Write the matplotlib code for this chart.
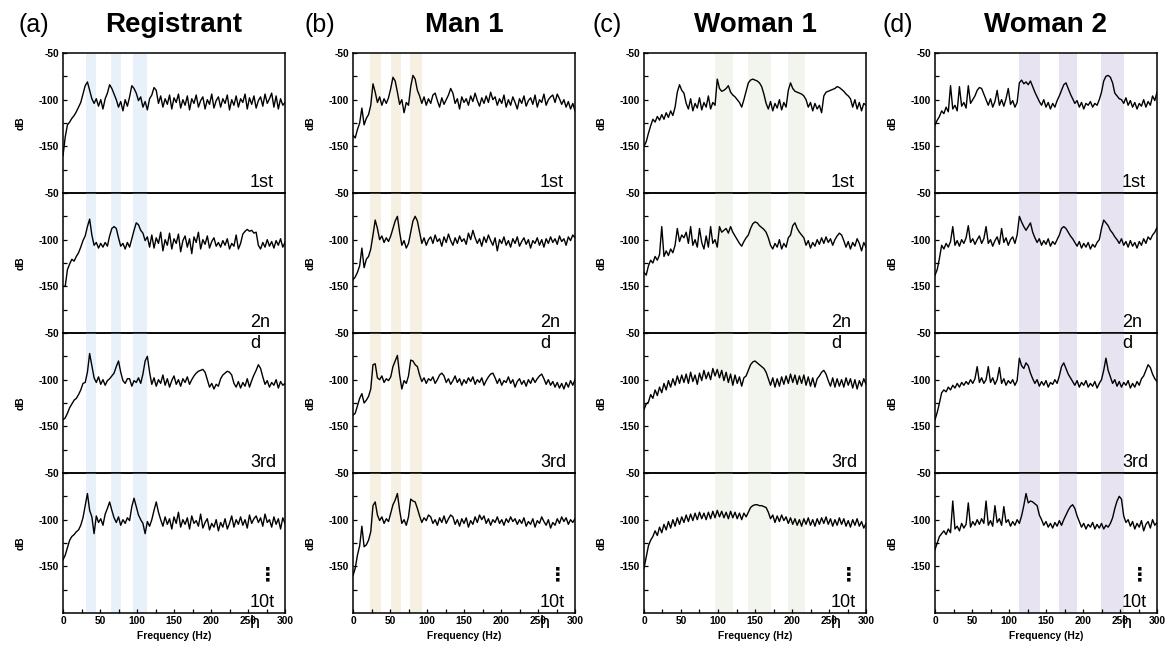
import numpy as np
import matplotlib
matplotlib.use("Agg")
import matplotlib.pyplot as plt
from matplotlib.ticker import MultipleLocator, FixedLocator

plt.rcParams['font.family'] = ['Liberation Sans', 'DejaVu Sans']
plt.rcParams['axes.unicode_minus'] = False

# Frequency axis shared by every spectrum (Hz)
FREQ = np.arange(0, 301, 3)

SPEAKERS = ["Registrant", "Man 1", "Woman 1", "Woman 2"]
PANEL_TAGS = ["(a)", "(b)", "(c)", "(d)"]
TRIALS = ["1st", "2nd", "3rd", "10th"]

# Highlighted formant-like bands per speaker (Hz)
BANDS = [
    [(31, 45), (65, 78), (94, 114)],
    [(23, 38), (51, 65), (77, 93)],
    [(96, 120), (140, 171), (194, 218)],
    [(113, 142), (168, 192), (224, 256)],
]
BAND_COLORS = ["#e8f0fa", "#f5f0e2", "#f1f5ed", "#e8e3f0"]

# ---- spectra (dB), sampled every 3 Hz from 0 to 300 Hz ----
reg_1st = [
    -160, -140, -127, -124, -120, -117, -113, -108, -103, -94,
    -85, -81, -90, -99, -104, -99, -107, -100, -110, -99,
    -93, -84, -88, -94, -100, -108, -102, -112, -100, -107,
    -97, -85, -88, -93, -101, -97, -108, -102, -111, -99,
    -95, -87, -90, -104, -96, -108, -99, -105, -95, -110,
    -98, -103, -94, -109, -100, -106, -96, -111, -99, -104,
    -95, -108, -101, -97, -110, -100, -105, -94, -109, -101,
    -97, -108, -99, -104, -95, -111, -100, -106, -96, -108,
    -99, -103, -94, -110, -98, -105, -96, -109, -101, -97,
    -107, -94, -104, -99, -93, -108, -96, -110, -99, -106, -103]
reg_2nd = [
    -150, -150, -132, -126, -121, -123, -118, -114, -108, -101,
    -96, -86, -78, -95, -106, -103, -109, -104, -108, -103,
    -107, -96, -88, -86, -88, -98, -107, -104, -110, -103,
    -108, -99, -90, -82, -84, -90, -93, -101, -97, -108,
    -95, -109, -98, -104, -92, -112, -100, -106, -93, -110,
    -99, -104, -94, -113, -101, -96, -108, -99, -115, -97,
    -103, -92, -110, -100, -105, -96, -109, -102, -98, -107,
    -103, -108, -101, -106, -99, -110, -104, -107, -95, -110,
    -104, -94, -91, -89, -91, -90, -93, -92, -106, -110,
    -103, -108, -100, -107, -102, -109, -101, -106, -99, -108, -103]
reg_3rd = [
    -143, -141, -136, -130, -126, -122, -120, -116, -111, -104,
    -103, -92, -72, -85, -98, -103, -97, -105, -100, -106,
    -101, -99, -96, -93, -86, -80, -92, -101, -104, -99,
    -99, -107, -101, -103, -98, -104, -94, -80, -75, -92,
    -105, -98, -107, -100, -104, -95, -106, -99, -108, -101,
    -96, -105, -100, -107, -99, -103, -97, -105, -100, -96,
    -93, -91, -90, -89, -92, -100, -108, -104, -110, -105,
    -107, -99, -95, -93, -91, -92, -95, -104, -108, -102,
    -109, -103, -107, -99, -108, -101, -95, -90, -84, -88,
    -97, -105, -101, -108, -103, -106, -100, -109, -102, -106, -104]
reg_10th = [
    -143, -138, -130, -122, -118, -116, -113, -111, -106, -98,
    -85, -72, -90, -97, -115, -96, -103, -99, -106, -94,
    -88, -81, -90, -98, -103, -97, -106, -100, -104, -98,
    -101, -86, -77, -86, -95, -100, -104, -115, -102, -107,
    -100, -90, -81, -92, -100, -107, -97, -105, -99, -110,
    -97, -104, -92, -108, -100, -105, -98, -110, -96, -104,
    -101, -107, -94, -109, -103, -99, -111, -104, -108, -100,
    -112, -103, -108, -99, -110, -104, -96, -108, -100, -105,
    -97, -106, -100, -109, -95, -104, -99, -96, -103, -98,
    -107, -94, -103, -100, -108, -97, -105, -99, -110, -98, -104]

man1_1st = [
    -138, -141, -132, -125, -109, -127, -120, -116, -106, -83,
    -92, -103, -97, -106, -99, -104, -98, -88, -76, -80,
    -92, -105, -100, -114, -103, -106, -86, -74, -78, -90,
    -96, -104, -97, -106, -99, -104, -95, -93, -101, -108,
    -98, -105, -100, -95, -88, -93, -104, -99, -110, -97,
    -103, -99, -106, -96, -102, -93, -101, -107, -98, -104,
    -96, -103, -92, -100, -97, -106, -99, -104, -95, -108,
    -100, -106, -97, -103, -110, -99, -104, -96, -107, -101,
    -98, -105, -95, -108, -100, -103, -94, -106, -100, -97,
    -95, -103, -94, -99, -105, -100, -108, -102, -110, -104, -112]
man1_2nd = [
    -143, -140, -135, -128, -109, -130, -121, -118, -110, -95,
    -79, -88, -100, -96, -103, -98, -102, -96, -88, -80,
    -75, -92, -106, -101, -109, -104, -92, -80, -75, -80,
    -92, -104, -98, -106, -100, -97, -104, -95, -102, -99,
    -107, -97, -103, -94, -101, -106, -98, -104, -96, -102,
    -99, -105, -93, -100, -90, -98, -104, -99, -107, -97,
    -103, -95, -101, -106, -98, -112, -100, -104, -97, -106,
    -101, -108, -99, -104, -97, -107, -102, -98, -105, -100,
    -109, -101, -104, -98, -106, -100, -108, -99, -104, -97,
    -103, -99, -105, -96, -102, -99, -106, -97, -101, -95, -98]
man1_3rd = [
    -138, -136, -128, -120, -115, -125, -122, -118, -110, -84,
    -83, -98, -100, -96, -103, -99, -101, -97, -86, -80,
    -74, -95, -110, -101, -104, -96, -79, -80, -84, -86,
    -95, -102, -98, -104, -99, -101, -97, -104, -100, -95,
    -93, -96, -103, -99, -105, -101, -96, -103, -99, -106,
    -100, -104, -98, -102, -97, -105, -100, -103, -98, -106,
    -101, -97, -94, -93, -98, -104, -99, -106, -101, -103,
    -97, -104, -100, -108, -102, -99, -105, -101, -107, -100,
    -104, -98, -103, -99, -96, -94, -99, -105, -100, -106,
    -102, -108, -103, -109, -104, -110, -103, -108, -101, -106, -100]
man1_10th = [
    -160, -152, -138, -128, -107, -129, -127, -122, -113, -85,
    -81, -95, -101, -97, -104, -99, -102, -93, -84, -79,
    -72, -90, -104, -100, -106, -97, -78, -80, -81, -88,
    -96, -103, -98, -101, -95, -97, -104, -100, -106, -98,
    -103, -96, -104, -99, -95, -97, -105, -100, -107, -99,
    -104, -98, -108, -101, -105, -97, -103, -95, -100, -96,
    -104, -99, -106, -100, -103, -97, -104, -100, -106, -99,
    -103, -97, -102, -99, -105, -100, -104, -98, -107, -102,
    -105, -99, -108, -101, -104, -97, -102, -106, -100, -109,
    -103, -106, -99, -104, -97, -102, -98, -105, -100, -103, -99]

woman1_1st = [
    -150, -145, -136, -128, -121, -124, -118, -122, -116, -121,
    -114, -119, -112, -117, -108, -92, -84, -90, -93, -104,
    -110, -99, -112, -104, -109, -98, -111, -103, -108, -96,
    -110, -103, -106, -78, -88, -91, -90, -88, -85, -92,
    -95, -97, -100, -103, -108, -100, -91, -82, -79, -78,
    -79, -80, -82, -86, -94, -104, -110, -102, -112, -104,
    -109, -100, -111, -103, -108, -90, -82, -88, -91, -92,
    -93, -94, -96, -100, -108, -103, -112, -104, -110, -106,
    -114, -96, -92, -91, -90, -89, -88, -86, -87, -89,
    -91, -94, -96, -99, -108, -100, -110, -103, -112, -104, -106]
woman1_2nd = [
    -135, -138, -128, -122, -125, -118, -122, -116, -86, -118,
    -112, -117, -110, -114, -106, -88, -102, -95, -98, -92,
    -104, -86, -106, -100, -108, -88, -103, -110, -96, -108,
    -86, -104, -100, -108, -86, -92, -90, -88, -93, -86,
    -92, -96, -100, -104, -107, -102, -98, -95, -88, -83,
    -81, -82, -85, -87, -89, -92, -98, -106, -110, -104,
    -108, -100, -110, -104, -108, -98, -95, -85, -82, -88,
    -92, -95, -98, -106, -101, -109, -103, -107, -100, -105,
    -98, -104, -97, -103, -99, -106, -100, -96, -93, -95,
    -101, -108, -102, -110, -103, -107, -99, -104, -112, -103, -108]
woman1_3rd = [
    -132, -126, -124, -116, -120, -111, -117, -108, -114, -104,
    -111, -101, -108, -99, -106, -96, -104, -95, -103, -94,
    -104, -92, -102, -95, -105, -93, -101, -90, -99, -92,
    -100, -88, -96, -89, -98, -90, -101, -92, -103, -94,
    -106, -95, -104, -97, -107, -98, -96, -90, -84, -81,
    -80, -82, -84, -86, -88, -92, -99, -106, -98, -108,
    -99, -107, -97, -105, -96, -104, -94, -103, -95, -105,
    -96, -104, -95, -106, -97, -107, -98, -108, -99, -96,
    -92, -90, -94, -101, -107, -98, -108, -99, -107, -100,
    -108, -98, -106, -99, -109, -100, -110, -101, -107, -99, -105]
woman1_10th = [
    -152, -140, -128, -122, -118, -112, -117, -108, -114, -105,
    -111, -102, -109, -100, -107, -98, -105, -97, -103, -95,
    -102, -94, -101, -93, -100, -92, -99, -93, -100, -92,
    -99, -91, -98, -90, -97, -91, -98, -92, -99, -91,
    -98, -92, -99, -93, -100, -93, -97, -92, -87, -85,
    -84, -84, -85, -85, -86, -87, -92, -99, -95, -103,
    -96, -102, -95, -101, -97, -104, -98, -105, -99, -106,
    -100, -107, -99, -105, -98, -106, -100, -107, -99, -105,
    -98, -104, -97, -105, -99, -107, -100, -106, -98, -105,
    -99, -107, -101, -108, -100, -106, -99, -107, -102, -109, -104]

woman2_1st = [
    -127, -122, -118, -112, -115, -108, -113, -85, -110, -106,
    -112, -86, -107, -103, -109, -85, -104, -100, -96, -90,
    -87, -88, -94, -100, -106, -99, -108, -102, -90, -106,
    -100, -107, -99, -88, -105, -101, -108, -103, -82, -79,
    -83, -81, -84, -80, -86, -92, -97, -102, -106, -100,
    -108, -103, -110, -104, -108, -101, -96, -90, -84, -82,
    -88, -94, -99, -104, -101, -108, -103, -110, -104, -106,
    -102, -108, -104, -106, -100, -92, -80, -75, -74, -76,
    -82, -93, -96, -99, -100, -104, -98, -106, -101, -108,
    -103, -110, -104, -107, -100, -108, -102, -106, -96, -101, -92]
woman2_2nd = [
    -138, -132, -120, -106, -110, -104, -108, -102, -86, -106,
    -101, -107, -100, -104, -98, -85, -103, -99, -105, -100,
    -96, -104, -99, -86, -104, -100, -107, -101, -97, -105,
    -88, -103, -98, -106, -100, -97, -104, -95, -75, -81,
    -86, -90, -86, -82, -92, -98, -103, -99, -106, -101,
    -105, -99, -107, -102, -105, -100, -95, -88, -86, -88,
    -92, -96, -99, -103, -107, -102, -109, -104, -108, -103,
    -110, -105, -108, -103, -100, -88, -79, -82, -85, -90,
    -93, -97, -100, -104, -99, -106, -102, -108, -101, -107,
    -103, -109, -102, -106, -99, -104, -97, -100, -95, -92, -87]
woman2_3rd = [
    -143, -135, -125, -114, -111, -113, -108, -111, -106, -109,
    -104, -108, -103, -106, -102, -105, -100, -104, -99, -86,
    -103, -98, -104, -100, -86, -103, -98, -105, -100, -87,
    -104, -99, -106, -101, -104, -100, -106, -101, -77, -85,
    -88, -82, -85, -93, -99, -104, -100, -107, -102, -106,
    -101, -108, -103, -105, -100, -104, -96, -86, -82, -88,
    -94, -98, -102, -106, -101, -108, -103, -106, -101, -108,
    -104, -107, -102, -109, -104, -100, -90, -77, -90, -97,
    -104, -100, -107, -102, -108, -103, -106, -101, -109, -104,
    -108, -102, -106, -99, -96, -90, -84, -87, -94, -99, -102]
woman2_10th = [
    -132, -125, -118, -115, -112, -116, -110, -114, -80, -110,
    -107, -112, -104, -109, -105, -82, -108, -102, -106, -100,
    -105, -99, -104, -80, -106, -101, -107, -85, -103, -99,
    -106, -86, -103, -100, -107, -102, -106, -100, -104, -96,
    -85, -72, -82, -80, -81, -83, -85, -95, -100, -106,
    -102, -108, -104, -109, -103, -107, -101, -106, -100, -95,
    -90, -86, -84, -88, -96, -102, -108, -104, -110, -105,
    -108, -103, -110, -105, -109, -104, -110, -106, -108, -104,
    -98, -88, -80, -75, -78, -96, -103, -100, -107, -102,
    -110, -104, -108, -101, -112, -105, -102, -109, -100, -106, -103]

SPECTRA = [
    [reg_1st, reg_2nd, reg_3rd, reg_10th],
    [man1_1st, man1_2nd, man1_3rd, man1_10th],
    [woman1_1st, woman1_2nd, woman1_3rd, woman1_10th],
    [woman2_1st, woman2_2nd, woman2_3rd, woman2_10th],
]

# ---- layout (pixels of a 1171 x 651 canvas) ----
W, H = 1171, 651
fig = plt.figure(figsize=(W / 100, H / 100), dpi=100)
col_left = [63, 353, 644, 935]
ax_w = 222
row_top = 53
row_h = 140
tag_x = [18, 305, 593, 883]

SMALL = 7.4

for c, speaker in enumerate(SPEAKERS):
    for r, trial in enumerate(TRIALS):
        top = row_top + r * row_h
        ax = fig.add_axes([col_left[c] / W, 1 - (top + row_h) / H, ax_w / W, row_h / H])
        ax.set_facecolor('none')
        for lo, hi in BANDS[c]:
            ax.axvspan(lo, hi, color=BAND_COLORS[c], lw=0, zorder=0)
        ax.plot(FREQ, SPECTRA[c][r], color='black', lw=1.0, zorder=2)
        ax.set_xlim(0, 300)
        ax.set_ylim(-200, -50)
        for sp in ax.spines.values():
            sp.set_linewidth(1.1)
        ax.yaxis.set_major_locator(FixedLocator([-50, -100, -150]))
        ax.yaxis.set_minor_locator(FixedLocator([-75, -125, -175]))
        ax.tick_params(axis='y', which='both', direction='in', length=3, width=0.9,
                       pad=3, labelsize=SMALL)
        for lab in ax.get_yticklabels():
            lab.set_fontweight('bold')
        ax.set_ylabel('dB', fontsize=SMALL, fontweight='bold', labelpad=9)
        if r == len(TRIALS) - 1:
            ax.xaxis.set_major_locator(MultipleLocator(50))
            ax.xaxis.set_minor_locator(MultipleLocator(25))
            ax.tick_params(axis='x', which='both', direction='in', length=3, width=0.9,
                           pad=2, labelsize=SMALL)
            for lab in ax.get_xticklabels():
                lab.set_fontweight('bold')
            ax.set_xlabel('Frequency (Hz)', fontsize=SMALL, fontweight='bold', labelpad=4)
        else:
            ax.tick_params(axis='x', which='both', bottom=False, labelbottom=False)

        # trial label, wrapped inside a narrow box
        tx = 0.842
        if trial == "2nd":
            first, rest = "2n", "d"
        elif trial == "10th":
            first, rest = "10t", "h"
        else:
            first, rest = trial, ""
        fig.text(tx, 6 / row_h, first, transform=ax.transAxes, fontsize=13,
                 ha='left', va='baseline', zorder=5)
        if rest:
            fig.text(tx, -15 / row_h, rest, transform=ax.transAxes, fontsize=13,
                     ha='left', va='baseline', zorder=5)
        if trial == "10th":
            fig.text(0.92, 38 / row_h, "\u22ee", transform=ax.transAxes,
                     fontsize=14, fontweight='bold', family='DejaVu Sans',
                     ha='center', va='center', zorder=5)

    cx = (col_left[c] + ax_w / 2) / W
    fig.text(cx, 1 - 32 / H, speaker, fontsize=20, fontweight='bold',
             ha='center', va='baseline')
    fig.text(tag_x[c] / W, 1 - 32 / H, PANEL_TAGS[c], fontsize=18,
             ha='left', va='baseline')

fig.savefig('out.png', dpi=100)
